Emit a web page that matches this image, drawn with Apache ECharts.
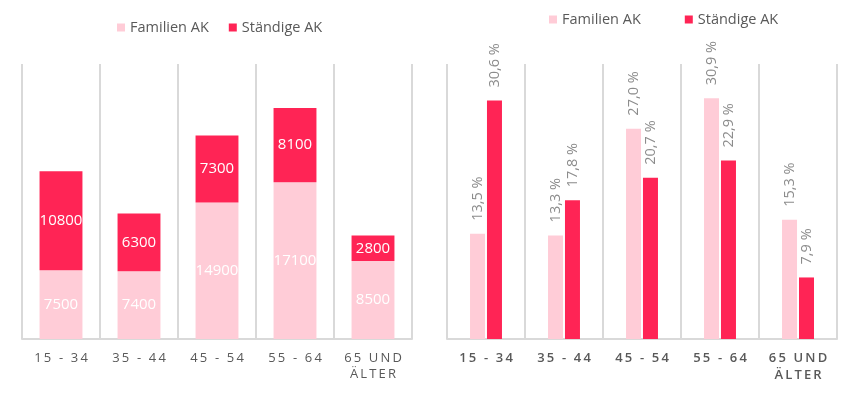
<!DOCTYPE html>
<html>
<head>
<meta charset="utf-8">
<script src="https://cdn.jsdelivr.net/npm/echarts@6/dist/echarts.min.js"></script>
<style>
html,body{margin:0;padding:0;background:#fff;}
#c{width:859px;height:396px;}
</style>
</head>
<body>
<div id="c"></div>
<script>
const categories = ['15 - 34', '35 - 44', '45 - 54', '55 - 64', '65 UND\nÄLTER'];
const seriesNames = ['Familien AK', 'Ständige AK'];
const familienAK = [7500, 7400, 14900, 17100, 8500];
const staendigeAK = [10800, 6300, 7300, 8100, 2800];
const familienPct = [13.5, 13.3, 27.0, 30.9, 15.3];
const staendigePct = [30.6, 17.8, 20.7, 22.9, 7.9];

const PINK = '#FFCCD7';
const RED = '#FF2455';
const FONT = '"Open Sans", "Noto Sans", sans-serif';

function spaced(s) {
  return s.split('\n').map(l => Array.from(l).join('\u2009')).join('\n');
}
function pct(p) {
  return p.value.toFixed(1).replace('.', ',') + ' %';
}

const chart = echarts.init(document.getElementById('c'), null, {renderer: 'canvas'});

const xAxisBase = (gi, bold) => ({
  type: 'category',
  gridIndex: gi,
  data: categories,
  boundaryGap: true,
  axisLine: {show: true, lineStyle: {color: '#D9D9D9', width: 2}},
  axisTick: {show: false},
  splitLine: {show: true, lineStyle: {color: '#D9D9D9', width: 2}},
  axisLabel: {
    interval: 0,
    margin: 11,
    color: '#595959',
    fontFamily: FONT,
    fontSize: 13,
    fontWeight: bold ? 600 : 'normal',
    lineHeight: bold ? 17 : 16,
    formatter: spaced
  }
});

const option = {
  animation: false,
  backgroundColor: '#fff',
  textStyle: {fontFamily: FONT},
  legend: [
    {
      data: seriesNames,
      left: 117, top: 20, padding: 0,
      icon: 'rect', itemWidth: 8, itemHeight: 8, itemGap: 20,
      textStyle: {color: '#595959', fontSize: 14.5, fontFamily: FONT}
    },
    {
      data: seriesNames,
      left: 549, top: 12, padding: 0,
      icon: 'rect', itemWidth: 8, itemHeight: 8, itemGap: 44,
      textStyle: {color: '#595959', fontSize: 14.5, fontFamily: FONT}
    }
  ],
  grid: [
    {left: 22, width: 390, top: 64, height: 275, containLabel: false},
    {left: 447, width: 390, top: 64, height: 275, containLabel: false}
  ],
  xAxis: [xAxisBase(0, false), xAxisBase(1, true)],
  yAxis: [
    {type: 'value', gridIndex: 0, min: 0, max: 30000, show: false, splitLine: {show: false}},
    {type: 'value', gridIndex: 1, min: 0, max: 35.3, show: false, splitLine: {show: false}}
  ],
  series: [
    {
      name: seriesNames[0], type: 'bar', stack: 'a', xAxisIndex: 0, yAxisIndex: 0,
      data: familienAK, barWidth: '55%',
      itemStyle: {color: PINK},
      label: {show: true, position: 'inside', color: '#fff', fontSize: 15, fontFamily: FONT}
    },
    {
      name: seriesNames[1], type: 'bar', stack: 'a', xAxisIndex: 0, yAxisIndex: 0,
      data: staendigeAK, barWidth: '55%',
      itemStyle: {color: RED},
      label: {show: true, position: 'inside', color: '#fff', fontSize: 15, fontFamily: FONT}
    },
    {
      name: seriesNames[0], type: 'bar', xAxisIndex: 1, yAxisIndex: 1,
      data: familienPct, barWidth: 15, barGap: '13%',
      itemStyle: {color: PINK},
      label: {show: true, position: 'top', rotate: 90, align: 'left', verticalAlign: 'middle',
        distance: 13, color: '#8C8C8C', fontSize: 14.5, fontFamily: FONT, formatter: pct}
    },
    {
      name: seriesNames[1], type: 'bar', xAxisIndex: 1, yAxisIndex: 1,
      data: staendigePct, barWidth: 15, barGap: '13%',
      itemStyle: {color: RED},
      label: {show: true, position: 'top', rotate: 90, align: 'left', verticalAlign: 'middle',
        distance: 13, color: '#8C8C8C', fontSize: 14.5, fontFamily: FONT, formatter: pct}
    }
  ]
};
chart.setOption(option);
</script>
</body>
</html>
